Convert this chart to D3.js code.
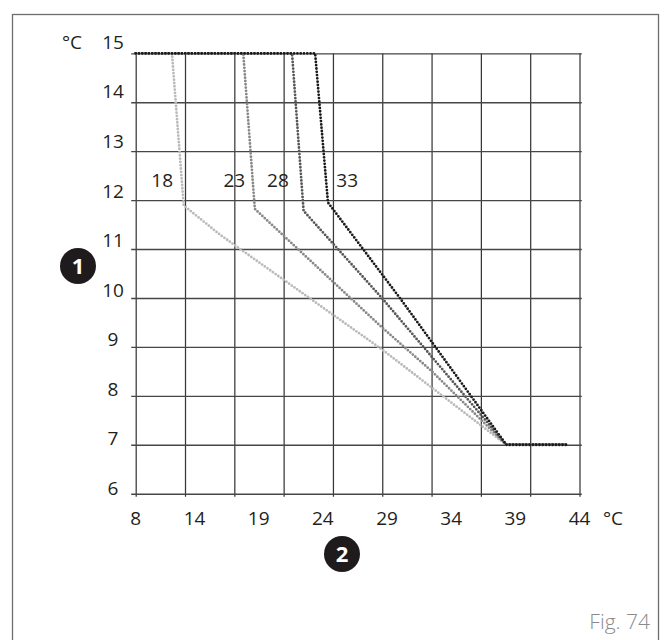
<!DOCTYPE html>
<html>
<head>
<meta charset="utf-8">
<script src="https://cdn.jsdelivr.net/npm/d3@7"></script>
<style>
  html, body { margin: 0; padding: 0; background: #fff; }
  svg { display: block; }
  text { font-family: "Open Sans", "DejaVu Sans", sans-serif; fill: #231f20; }
</style>
</head>
<body>
<svg id="chart" width="664" height="640"></svg>
<script>
// Axis tick labels (°C)
const xTickLabels = [8, 14, 19, 24, 29, 34, 39, 44];
const yTickLabels = [6, 7, 8, 9, 10, 11, 12, 13, 14, 15];

// Curve names and their break points (x = °C on the bottom axis, y = °C on the left axis)
const curveNames = ["18", "23", "28", "33"];
const curve18x = [8, 11.7, 12.9, 16.0, 28.6, 38.3, 43.0];
const curve18y = [15, 15, 11.89, 11.29, 8.95, 7, 7];
const curve23x = [8, 17.8, 18.7, 28.6, 32.5, 38.3, 43.0];
const curve23y = [15, 15, 11.82, 9.4, 8.5, 7, 7];
const curve28x = [8, 21.6, 22.5, 28.6, 38.3, 43.0];
const curve28y = [15, 15, 11.78, 10.0, 7, 7];
const curve33x = [8, 23.4, 24.4, 30.0, 38.3, 43.0];
const curve33y = [15, 15, 11.95, 10.0, 7, 7];
const curveColors = ["#bababa", "#888888", "#575757", "#1a1a1a"];

// Where each curve's name is written (in axis units)
const nameAtX = [10.7, 17.1, 20.5, 25.9];
const nameAtY = 12.41;

const svg = d3.select("#chart");

// The bottom axis labels are not evenly valued, so the scale is piecewise linear
const x = d3.scaleLinear().domain([8, 14, 44]).range([135.7, 194.5, 579.5]);
const y = d3.scaleLinear().domain([6, 15]).range([493.7, 53.3]);
// Vertical grid: nine equal cells across the plot
const gridX = d3.scaleLinear().domain([0, 9]).range([x(8), x(44)]);
// Left labels sit slightly above their grid lines
const yText = d3.scaleLinear().domain([6, 15]).range([488, 42.3]);

const plotH = y(6) - y(15);
const plotW = x(44) - x(8);
const fontSize = 19;

// Outer frame
svg.append("rect")
  .attr("x", 12.5).attr("y", 14.5)
  .attr("width", 646).attr("height", 660)
  .attr("fill", "none")
  .attr("stroke", "#6e6e6e")
  .attr("stroke-width", 1.3);

// Vertical grid lines with small ticks below the bottom line
const gV = svg.append("g")
  .attr("transform", `translate(0,${y(6) + 3})`)
  .call(d3.axisBottom(gridX).tickValues(d3.range(10))
    .tickSize(-(plotH + 3)).tickSizeOuter(0).tickFormat(""));
gV.select(".domain").remove();
gV.selectAll(".tick line").attr("stroke", "#383838").attr("stroke-width", 1.25);

// Horizontal grid lines with small ticks left of the axis
const gH = svg.append("g")
  .attr("transform", `translate(${x(8) - 4.5},0)`)
  .call(d3.axisLeft(y).tickValues(yTickLabels)
    .tickSize(-(plotW + 4.5 + 2.3)).tickSizeOuter(0).tickFormat(""));
gH.select(".domain").remove();
gH.selectAll(".tick line").attr("stroke", "#464646").attr("stroke-width", 1.35);

// Bottom labels
svg.append("g").selectAll("text")
  .data(xTickLabels)
  .join("text")
  .attr("x", d => x(d))
  .attr("y", y(6) + 31)
  .attr("text-anchor", "middle")
  .attr("font-size", fontSize)
  .text(d => d);
svg.append("text")
  .attr("x", 613).attr("y", y(6) + 31)
  .attr("text-anchor", "middle")
  .attr("font-size", fontSize)
  .text("°C");

// Left labels
svg.append("g").selectAll("text")
  .data(yTickLabels)
  .join("text")
  .attr("x", 113)
  .attr("y", d => yText(d))
  .attr("dy", "0.35em")
  .attr("text-anchor", "middle")
  .attr("font-size", fontSize)
  .text(d => d);
svg.append("text")
  .attr("x", 72).attr("y", yText(15))
  .attr("dy", "0.35em")
  .attr("text-anchor", "middle")
  .attr("font-size", fontSize)
  .text("°C");

// Dotted curves, lightest first so the darkest one lies on top
const curves = [
  d3.zip(curve18x, curve18y),
  d3.zip(curve23x, curve23y),
  d3.zip(curve28x, curve28y),
  d3.zip(curve33x, curve33y)
];
const line = d3.line().x(d => x(d[0])).y(d => y(d[1]));
svg.append("g").selectAll("path")
  .data(curves)
  .join("path")
  .attr("d", line)
  .attr("fill", "none")
  .attr("stroke", (d, i) => curveColors[i])
  .attr("stroke-width", 2.8)
  .attr("stroke-linecap", "round")
  .attr("stroke-linejoin", "round")
  .attr("stroke-dasharray", "0 3.3");

// Curve names
svg.append("g").selectAll("text")
  .data(curveNames)
  .join("text")
  .attr("x", (d, i) => x(nameAtX[i]))
  .attr("y", y(nameAtY))
  .attr("dy", "0.35em")
  .attr("text-anchor", "middle")
  .attr("font-size", fontSize)
  .text(d => d);

// Numbered markers for the two axes
function marker(cx, cy, label) {
  const g = svg.append("g").attr("transform", `translate(${cx},${cy})`);
  g.append("circle").attr("r", 18).attr("fill", "#1f1b1c");
  g.append("text")
    .attr("text-anchor", "middle")
    .attr("dy", "0.36em")
    .attr("font-size", 22)
    .attr("font-weight", 700)
    .style("fill", "#fff")
    .text(label);
}
marker(78, 266, "1");
marker(342, 554, "2");

// Figure caption
svg.append("text")
  .attr("x", 650).attr("y", 629)
  .attr("text-anchor", "end")
  .attr("font-size", 21)
  .attr("font-weight", 300)
  .style("fill", "#8a8a8a")
  .text("Fig. 74");
</script>
</body>
</html>
